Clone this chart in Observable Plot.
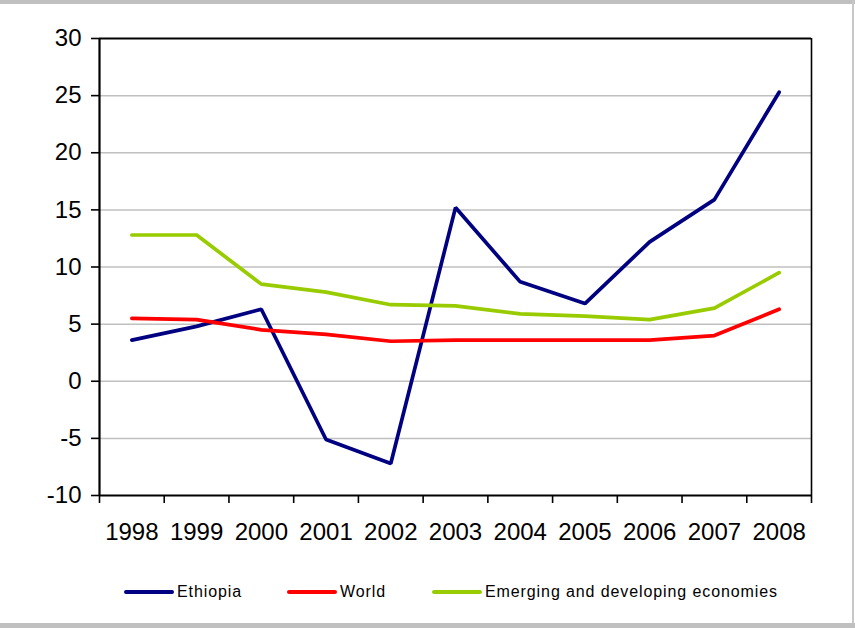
<!DOCTYPE html>
<html>
<head>
<meta charset="utf-8">
<script src="https://cdn.jsdelivr.net/npm/d3@7"></script>
<script src="https://cdn.jsdelivr.net/npm/@observablehq/plot@0.6"></script>
<style>
  html, body { margin: 0; padding: 0; background: #fff; }
  #wrap { position: relative; width: 855px; height: 628px; overflow: hidden; background: #fff;
          font-family: "Liberation Sans", Arial, sans-serif; }
  #topbar { position: absolute; left: 0; top: 0; width: 855px; height: 4px; background: #c0c0c0; }
  #botbar { position: absolute; left: 0; top: 623px; width: 855px; height: 5px; background: #c0c0c0; }
  #rightbar { position: absolute; left: 852px; top: 0; width: 2px; height: 628px; background: #c8c8c8; }
  #chart { position: absolute; left: 0; top: 0; }
  #legend { position: absolute; left: 0; top: 580px; width: 855px; height: 24px; font-size: 16px; color: #000; letter-spacing: 0.9px; }
  .item { position: absolute; top: 0; display: flex; align-items: center; height: 24px; }
  .swatch { width: 50px; height: 4px; border-radius: 2px; margin-right: 3px; }
</style>
</head>
<body>
<div id="wrap">
  <div id="topbar"></div>
  <div id="rightbar"></div>
  <div id="botbar"></div>
  <div id="chart"></div>
  <div id="legend"></div>
</div>
<script>
const years = [1998, 1999, 2000, 2001, 2002, 2003, 2004, 2005, 2006, 2007, 2008];
const ethiopia = [3.6, 4.8, 6.3, -5.1, -7.2, 15.2, 8.7, 6.8, 12.2, 15.9, 25.3];
const world = [5.5, 5.4, 4.5, 4.1, 3.5, 3.6, 3.6, 3.6, 3.6, 4.0, 6.3];
const emerging = [12.8, 12.8, 8.5, 7.8, 6.7, 6.6, 5.9, 5.7, 5.4, 6.4, 9.5];
const seriesNames = ["Ethiopia", "World", "Emerging and developing economies"];
const seriesColors = ["#000080", "#ff0000", "#99cc00"];
const yTicks = [-10, -5, 0, 5, 10, 15, 20, 25, 30];

const seriesValues = [ethiopia, world, emerging];
const data = [];
seriesNames.forEach((name, s) => {
  years.forEach((yr, i) => data.push({ series: name, year: yr, value: seriesValues[s][i] }));
});
const boundaries = [...years.map(y => y - 0.5), years[years.length - 1] + 0.5];
const gridTicks = yTicks.filter(v => v > yTicks[0] && v < yTicks[yTicks.length - 1]);

const chart = Plot.plot({
  width: 855,
  height: 560,
  marginLeft: 99,
  marginRight: 44,
  marginTop: 38,
  marginBottom: 65,
  style: { fontFamily: "Liberation Sans, Arial, sans-serif", fontSize: "24px", color: "#000", background: "transparent" },
  x: { domain: [boundaries[0], boundaries[boundaries.length - 1]] },
  y: { domain: [yTicks[0], yTicks[yTicks.length - 1]] },
  color: { domain: seriesNames, range: seriesColors },
  marks: [
    Plot.ruleY(gridTicks, { stroke: "#c0c0c0", strokeWidth: 1.5 }),
    Plot.axisY({ ticks: yTicks, tickSize: 8, tickPadding: 10, tickFormat: d => String(d), label: null, stroke: "#000", strokeWidth: 1.6, fontSize: 24 }),
    Plot.axisX({ ticks: boundaries, tickSize: 8, tickFormat: () => "", label: null, stroke: "#000", strokeWidth: 1.6 }),
    Plot.axisX({ ticks: years, tickSize: 0, tickPadding: 27, tickFormat: d => String(d), label: null, fontSize: 24 }),
    Plot.lineY(data, { x: "year", y: "value", z: "series", stroke: "series", strokeWidth: 3.7, strokeLinejoin: "miter", strokeLinecap: "round" }),
    Plot.ruleY([yTicks[0]], { stroke: "#000", strokeWidth: 2.2 }),
    Plot.ruleY([yTicks[yTicks.length - 1]], { stroke: "#000", strokeWidth: 2 }),
    Plot.ruleX([boundaries[0]], { stroke: "#000", strokeWidth: 2.2 }),
    Plot.ruleX([boundaries[boundaries.length - 1]], { stroke: "#000", strokeWidth: 1.6 })
  ]
});
document.getElementById("chart").appendChild(chart);

const legend = document.getElementById("legend");
const legendLefts = [124, 287, 432];
seriesNames.forEach((name, i) => {
  const item = document.createElement("div");
  item.className = "item";
  item.style.left = legendLefts[i] + "px";
  const sw = document.createElement("div");
  sw.className = "swatch";
  sw.style.background = seriesColors[i];
  const label = document.createElement("span");
  label.textContent = name;
  item.appendChild(sw);
  item.appendChild(label);
  legend.appendChild(item);
});
</script>
</body>
</html>
